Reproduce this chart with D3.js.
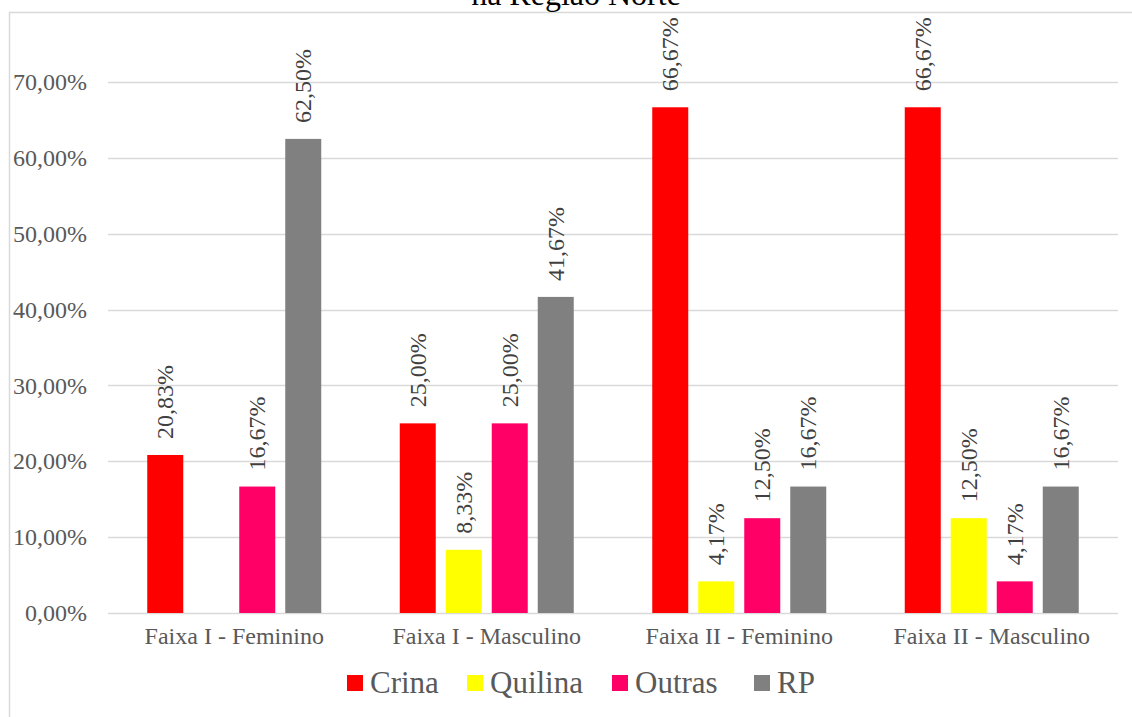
<!DOCTYPE html>
<html>
<head>
<meta charset="utf-8">
<script src="https://cdn.jsdelivr.net/npm/d3@7"></script>
<style>
  body { margin: 0; background: #fff; }
</style>
</head>
<body>
<div id="chart"></div>
<script>
// Chart data
const categories = ['Faixa I - Feminino', 'Faixa I - Masculino', 'Faixa II - Feminino', 'Faixa II - Masculino'];
const seriesNames = ['Crina', 'Quilina', 'Outras', 'RP'];
const seriesColors = ['#FF0000', '#FFFF00', '#FF0066', '#808080'];
const crina = [20.83, 25.00, 66.67, 66.67];
const quilina = [0, 8.33, 4.17, 12.50];
const outras = [16.67, 25.00, 12.50, 4.17];
const rp = [62.50, 41.67, 16.67, 16.67];
const yTicks = [0, 10, 20, 30, 40, 50, 60, 70];
const titleLine = 'na Região Norte';

const seriesValues = [crina, quilina, outras, rp];

const FONT = 'Liberation Serif';
const width = 1132;
const height = 717;
const margin = { top: 82, right: 14, bottom: 104, left: 108 };
const innerWidth = width - margin.left - margin.right;
const innerHeight = height - margin.top - margin.bottom;

const fmt = v => d3.format('.2f')(v).replace('.', ',') + '%';

const svg = d3.select('#chart')
    .append('svg')
    .attr('width', width)
    .attr('height', height)
    .attr('font-family', FONT);

// Chart area border (left and top visible)
svg.append('path')
    .attr('d', `M9.5,${height} L9.5,12.5 L${width},12.5`)
    .attr('fill', 'none')
    .attr('stroke', '#d9d9d9')
    .attr('stroke-width', 1.5);

// Title (cut off at top)
svg.append('text')
    .attr('x', 576)
    .attr('y', 5)
    .attr('text-anchor', 'middle')
    .attr('font-family', FONT)
    .attr('font-size', 32)
    .attr('fill', '#000')
    .text(titleLine);

const g = svg.append('g')
    .attr('transform', `translate(${margin.left},${margin.top})`);

// Scales
const yScale = d3.scaleLinear()
    .domain([0, 70])
    .range([innerHeight, 0]);

const x0 = d3.scaleBand()
    .domain(categories)
    .range([0, innerWidth]);

const groupInner = 174;
const x1 = d3.scaleBand()
    .domain(seriesNames)
    .range([(x0.bandwidth() - groupInner) / 2, (x0.bandwidth() + groupInner) / 2])
    .paddingInner(10 / 46);

// Gridlines
g.selectAll('.grid')
    .data(yTicks)
    .enter()
    .append('line')
    .attr('class', 'grid')
    .attr('x1', 0)
    .attr('x2', innerWidth)
    .attr('y1', d => Math.round(yScale(d)) + 0.5)
    .attr('y2', d => Math.round(yScale(d)) + 0.5)
    .attr('stroke', '#d9d9d9')
    .attr('stroke-width', 1.5);

// Y axis labels
const yAxis = d3.axisLeft(yScale)
    .tickValues(yTicks)
    .tickSize(0)
    .tickPadding(21)
    .tickFormat(fmt);

g.append('g')
    .call(yAxis)
    .attr('font-family', FONT)
    .attr('font-size', 24)
    .call(s => s.select('.domain').remove())
    .selectAll('text')
    .attr('fill', '#595959');

// X axis labels
const xAxis = d3.axisBottom(x0).tickSize(0).tickPadding(14);
g.append('g')
    .attr('transform', `translate(0,${innerHeight})`)
    .call(xAxis)
    .attr('font-family', FONT)
    .attr('font-size', 24)
    .call(s => s.select('.domain').remove())
    .selectAll('text')
    .attr('fill', '#595959');

// Bars
const rows = [];
categories.forEach((cat, i) => {
    seriesNames.forEach((s, j) => {
        rows.push({ cat, series: s, value: seriesValues[j][i], color: seriesColors[j] });
    });
});

const bars = rows.filter(d => d.value > 0);

g.selectAll('.bar')
    .data(bars)
    .enter()
    .append('rect')
    .attr('class', 'bar')
    .attr('x', d => x0(d.cat) + x1(d.series))
    .attr('y', d => yScale(d.value))
    .attr('width', x1.bandwidth())
    .attr('height', d => innerHeight - yScale(d.value))
    .attr('fill', d => d.color);

// Data labels
g.selectAll('.label')
    .data(bars)
    .enter()
    .append('text')
    .attr('class', 'label')
    .attr('transform', d => {
        const cx = x0(d.cat) + x1(d.series) + x1.bandwidth() / 2 + 8;
        const cy = yScale(d.value) - 16;
        return `translate(${cx},${cy}) rotate(-90)`;
    })
    .attr('text-anchor', 'start')
    .attr('font-family', FONT)
    .attr('font-size', 24)
    .attr('fill', '#404040')
    .text(d => fmt(d.value));

// Legend
const legendX = [347, 467, 612, 754];
const legend = svg.append('g').attr('class', 'legend');

legend.selectAll('rect')
    .data(seriesNames)
    .enter()
    .append('rect')
    .attr('x', (d, i) => legendX[i])
    .attr('y', 675)
    .attr('width', 16)
    .attr('height', 16)
    .attr('fill', (d, i) => seriesColors[i]);

legend.selectAll('text')
    .data(seriesNames)
    .enter()
    .append('text')
    .attr('x', (d, i) => legendX[i] + 23)
    .attr('y', 693)
    .attr('font-family', FONT)
    .attr('font-size', 31)
    .attr('fill', '#595959')
    .text(d => d);
</script>
</body>
</html>
